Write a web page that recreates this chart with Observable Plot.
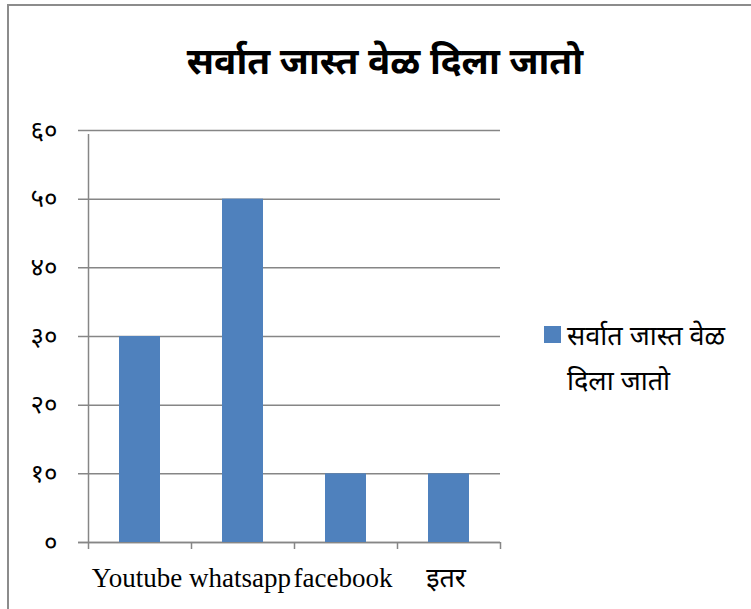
<!DOCTYPE html>
<html><head><meta charset="utf-8">
<script src="https://cdn.jsdelivr.net/npm/d3@7"></script>
<script src="https://cdn.jsdelivr.net/npm/@observablehq/plot@0.6"></script>
<style>
body{margin:0;background:#fff}
#wrap{position:relative;width:751px;height:609px;overflow:hidden;background:#fff}
#border{position:absolute;left:7px;top:4px;width:800px;height:700px;border:2px solid #8c8c8c;box-sizing:border-box;pointer-events:none}
#chart{position:absolute;left:0;top:0}
#title{position:absolute;left:0;width:770px;top:41px;text-align:center;font-size:37px;font-weight:bold;color:#000;font-family:"Noto Sans Devanagari","Noto Serif Devanagari","Lohit Devanagari","Mangal","FreeSerif",sans-serif}
#legend{position:absolute;left:544px;top:316px;width:210px;font-size:27px;line-height:45px;color:#000;font-family:"Noto Sans Devanagari","Noto Serif Devanagari","Lohit Devanagari","Mangal","FreeSerif",sans-serif}
#legend .sw{display:inline-block;width:17px;height:17px;background:#4F81BD;margin-right:6px;vertical-align:2px}
#legend .l2{padding-left:23px}
</style>
</head><body>
<div id="wrap">
  <div id="chart"></div>
  <div id="border"></div>
  <div id="title"></div>
  <div id="legend"></div>
</div>
<script>
const titleText = "सर्वात जास्त वेळ दिला जातो";
const seriesName = "सर्वात जास्त वेळ दिला जातो";
const categories = ["Youtube", "whatsapp", "facebook", "इतर"];
const values = [30, 50, 10, 10];
const yTicks = [0, 10, 20, 30, 40, 50, 60];
const yTickLabels = ["०", "१०", "२०", "३०", "४०", "५०", "६०"];

const data = categories.map((c, i) => ({category: c, value: values[i]}));

const W = 751, H = 609, ML = 88, MR = 251, MT = 130, MB = 67;
const bw = (W - ML - MR) / categories.length;
const gray = "#868686";
const devFont = '"Noto Sans Devanagari","Noto Serif Devanagari","Lohit Devanagari",Mangal,FreeSerif,sans-serif';

const plot = Plot.plot({
  width: W, height: H,
  marginLeft: ML, marginRight: MR, marginTop: MT, marginBottom: MB,
  style: {background: "transparent", overflow: "visible"},
  x: {type: "band", domain: categories, paddingInner: 0.6, paddingOuter: 0.3, align: 0.5},
  y: {domain: [0, 60]},
  marks: [
    Plot.gridY(yTicks, {stroke: gray, strokeOpacity: 1, strokeWidth: 1.5, insetLeft: -10}),
    Plot.ruleY([0], {stroke: gray, strokeWidth: 1.5, insetLeft: -10}),
    Plot.barY(data, {x: "category", y: "value", fill: "#4F81BD"}),
    // category boundary ticks on the x axis
    Plot.ruleX(categories, {x: d => d, y1: 0, y2: 0, insetBottom: -7, dx: -bw / 2, stroke: gray, strokeWidth: 1.5}),
    Plot.ruleX(categories.slice(-1), {x: d => d, y1: 0, y2: 0, insetBottom: -7, dx: bw / 2, stroke: gray, strokeWidth: 1.5}),
    // y axis line
    Plot.ruleX(categories.slice(0, 1), {x: d => d, y1: 0, y2: 60, insetBottom: -4, dx: -bw / 2, stroke: gray, strokeWidth: 1.5}),
    Plot.axisY(yTicks, {
      tickSize: 0, tickPadding: 31,
      tickFormat: (d) => yTickLabels[yTicks.indexOf(d)],
      fontSize: 26, fontFamily: devFont, fill: "#000", label: null
    }),
    Plot.axisX({
      tickSize: 0, tickPadding: 25, fontSize: 27, fill: "#000", label: null, dx: -3,
      fontFamily: '"Liberation Serif","Times New Roman","Noto Sans Devanagari",serif'
    })
  ]
});
document.getElementById("chart").appendChild(plot);
document.getElementById("title").textContent = titleText;
const words = seriesName.split(" ");
const lg = document.getElementById("legend");
lg.innerHTML = '<div><span class="sw"></span>' + words.slice(0, 3).join(" ") + '</div><div class="l2">' + words.slice(3).join(" ") + '</div>';
</script>
</body></html>
